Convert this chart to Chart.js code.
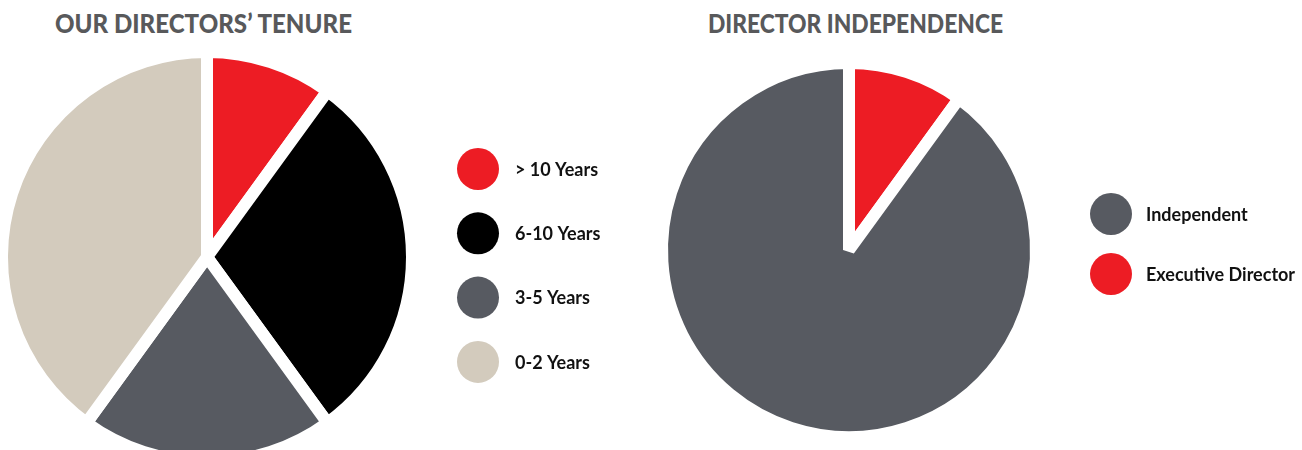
<!DOCTYPE html>
<html>
<head>
<meta charset="utf-8">
<script src="https://cdn.jsdelivr.net/npm/chart.js@4.4.1/dist/chart.umd.min.js"></script>
<style>
  html, body { margin:0; padding:0; background:#fff; width:1302px; height:450px; overflow:hidden; position:relative; }
  .title { position:absolute; font-family:'Lato', sans-serif; font-weight:900; font-size:27px; color:#58595b; white-space:nowrap; line-height:1; transform-origin:0 0; }
  canvas { position:absolute; top:0; }
</style>
</head>
<body>
<div class="title" id="t1" data-w="297" style="left:55px; top:9px;">OUR DIRECTORS’ TENURE</div>
<div class="title" id="t2" data-w="295" style="left:708px; top:9px;">DIRECTOR INDEPENDENCE</div>
<canvas id="c1" width="655" height="470" style="left:-4px;"></canvas>
<canvas id="c2" width="651" height="470" style="left:651px;"></canvas>
<script>
// ---- data ----
const tenureLabels = ['> 10 Years', '6-10 Years', '3-5 Years', '0-2 Years'];
const tenureValues = [1, 3, 2, 4];
const tenureColors = ['#ed1c24', '#000000', '#575a61', '#d3cbbd'];

const independenceLabels = ['Executive Director', 'Independent'];
const independenceValues = [1, 9];
const independenceColors = ['#ed1c24', '#575a61'];
const independenceLegendOrder = [1, 0];

// fit titles to reference widths
document.querySelectorAll('.title').forEach(el => {
  const w = el.getBoundingClientRect().width;
  el.style.transform = 'scaleX(' + (parseFloat(el.dataset.w) / w) + ')';
});

const dotLegend = {
  id: 'dotLegend',
  afterDraw(chart, args, opts) {
    const ctx = chart.ctx;
    const ds = chart.data.datasets[0];
    const order = opts.order || chart.data.labels.map((_, i) => i);
    ctx.save();
    order.forEach((idx, k) => {
      const y = opts.y0 + k * opts.dy;
      ctx.beginPath();
      ctx.arc(opts.x, y, opts.r, 0, Math.PI * 2);
      ctx.fillStyle = ds.backgroundColor[idx];
      ctx.fill();
      ctx.font = opts.font;
      ctx.fillStyle = opts.color;
      ctx.textBaseline = 'middle';
      ctx.textAlign = 'left';
      ctx.fillText(chart.data.labels[idx], opts.textX, y + 1);
    });
    ctx.restore();
  }
};

function makePie(id, labels, values, colors, pad, legend) {
  return new Chart(document.getElementById(id), {
    type: 'pie',
    data: { labels: labels, datasets: [{ data: values, backgroundColor: colors, borderColor: '#ffffff', borderWidth: 12, hoverOffset: 0, offset: 0 }] },
    options: {
      responsive: false,
      animation: false,
      layout: { padding: pad },
      plugins: { legend: { display: false }, tooltip: { enabled: false }, title: { display: false }, dotLegend: legend },
      events: []
    },
    plugins: [dotLegend]
  });
}

// left: pie centre (207,257) on page, visible radius ~200
makePie('c1', tenureLabels, tenureValues, tenureColors,
  { left: 0, top: 46, right: 655 - 422, bottom: 470 - 468 },
  { x: 482, y0: 169, dy: 64.3, r: 21, textX: 519, font: 'bold 18px Lato', color: '#111111' });

// right: pie centre (849,250) on page, visible radius ~182
makePie('c2', independenceLabels, independenceValues, independenceColors,
  { left: 5, top: 57, right: 651 - 391, bottom: 470 - 443 },
  { x: 460, y0: 214, dy: 60, r: 21, textX: 495, font: 'bold 18px Lato', color: '#111111', order: independenceLegendOrder });
</script>
</body>
</html>
